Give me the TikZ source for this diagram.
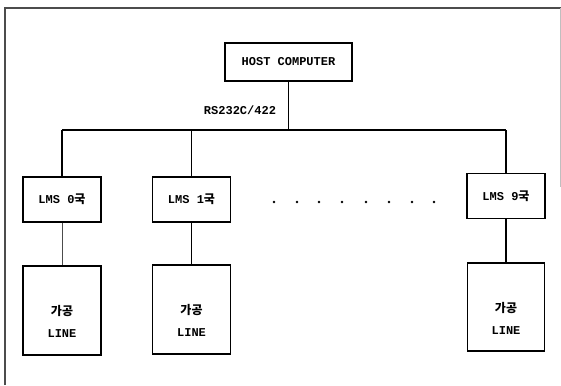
\documentclass[tikz,border=0pt]{standalone}
\usepackage{fontspec}
\setmainfont{Liberation Mono}
\newfontfamily\kr{Noto Sans CJK KR}
\begin{document}
\begin{tikzpicture}[x=1pt,y=-1pt,
  every node/.style={font=\fontsize{12}{14}\selectfont\bfseries},
  hostbox/.style={draw,line width=1.8pt,minimum width=127pt,minimum height=38pt,inner sep=0pt},
  lmsbox/.style={draw,line width=1.3pt,minimum width=78pt,minimum height=45pt,inner sep=0pt},
  linebox/.style={draw,line width=1.3pt,minimum width=78pt,minimum height=89pt,inner sep=0pt},
  lbl/.style={align=center,inner sep=0pt,font=\fontsize{12}{22}\selectfont\bfseries},
  conn/.style={line width=1.2pt},
  frame/.style={line width=1.2pt,black!70}]
\useasboundingbox (0,0) rectangle (561,385);
% frame
\coordinate (fbl) at (5,385);
\coordinate (ftl) at (5,8);
\coordinate (ftr) at (561,8);
\coordinate (fr1) at (560,8);
\coordinate (fr2) at (560,187);
\draw[frame] (fbl) -- (ftl) -- (ftr);
\draw[line width=0.8pt,black!25] (fr1) -- (fr2);
% nodes
\node[hostbox] (host) at (288.5,62) {HOST COMPUTER};
\node[inner sep=0pt] (rs) at (240,110) {RS232C/422};
\node[lmsbox] (m0) at (62,199.5) {LMS 0{\kr 국}};
\node[lmsbox] (m1) at (191.5,199.5) {LMS 1{\kr 국}};
\node[lmsbox] (m9) at (506,196) {LMS 9{\kr 국}};
\node[linebox] (l0) at (62,310.5) {};
\node[linebox] (l1) at (191.5,309.5) {};
\node[linebox,minimum width=77pt,minimum height=88pt] (l9) at (506,307) {};
\node[lbl] (l0t) at ([yshift=-11pt]l0.center) {{\kr 가공}\\LINE};
\node[lbl] (l1t) at ([yshift=-11pt]l1.center) {{\kr 가공}\\LINE};
\node[lbl] (l9t) at ([yshift=-11pt]l9.center) {{\kr 가공}\\LINE};
% bus
\coordinate (b0) at (62,130);
\coordinate (b9) at (506,130);
\draw[conn] (b0) -- (b9);
\draw[conn] (host.south) -- (host.south |- b0);
\draw[conn] (b0) -- (m0.north);
\draw[conn] (m1.north |- b0) -- (m1.north);
\draw[conn] (b9) -- (m9.north);
\draw[line width=0.9pt,black!70] (m0.south) -- (l0.north);
\draw[conn] (m1.south) -- (l1.north);
\draw[conn] (m9.south) -- (l9.north);
% dots
\foreach \x in {274,297,319,342,366,389,412,434}
  \fill (\x,202) circle (1.3pt);
\end{tikzpicture}
\end{document}
